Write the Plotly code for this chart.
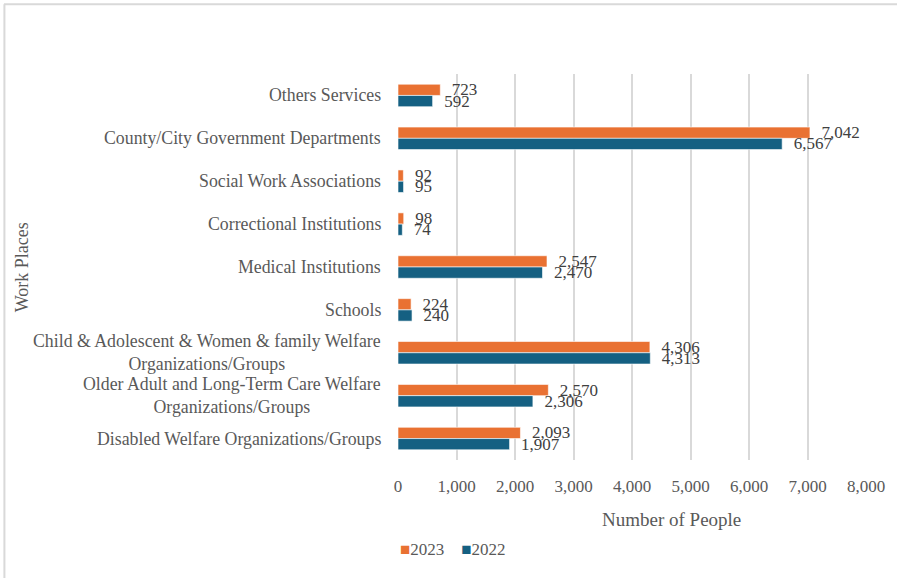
import plotly.graph_objects as go

# Work places, listed top to bottom
categories = [
    "Others Services",
    "County/City Government Departments",
    "Social Work Associations",
    "Correctional Institutions",
    "Medical Institutions",
    "Schools",
    "Child & Adolescent & Women & family Welfare<br>Organizations/Groups",
    "Older Adult and Long-Term Care Welfare<br>Organizations/Groups",
    "Disabled Welfare Organizations/Groups",
]
values_2023 = [723, 7042, 92, 98, 2547, 224, 4306, 2570, 2093]
values_2022 = [592, 6567, 95, 74, 2470, 240, 4313, 2306, 1907]
x_ticks = [0, 1000, 2000, 3000, 4000, 5000, 6000, 7000, 8000]
series = [("2023", values_2023, "#E97132"), ("2022", values_2022, "#156082")]

FONT = "Liberation Serif"
GREY = "#595959"

fig = go.Figure()
for name, vals, color in series:
    fig.add_trace(go.Bar(
        y=categories, x=vals, name=name, orientation="h",
        marker=dict(color=color, line=dict(color="white", width=0.6)),
        text=vals, texttemplate="  %{x:,}", textposition="outside",
        constraintext="none", cliponaxis=False,
        textfont=dict(family=FONT, size=17, color="#404040"),
    ))

# category labels, centred line by line and right-aligned to the axis
for cat in categories:
    fig.add_annotation(
        x=0, xref="paper", y=cat, yref="y", xanchor="right", yanchor="middle",
        xshift=-15, text=cat, showarrow=False, align="center",
        font=dict(family=FONT, size=17.8, color=GREY),
    )

fig.add_annotation(
    x=0.585, xref="paper", y=-0.153, yref="paper", xanchor="center", yanchor="middle",
    text="Number of People", showarrow=False,
    font=dict(family=FONT, size=19, color=GREY),
)
fig.add_annotation(
    x=-0.803, xref="paper", y=0.5, yref="paper", xanchor="center", yanchor="middle",
    text="Work Places", textangle=-90, showarrow=False,
    font=dict(family=FONT, size=18, color=GREY),
)

# legend: coloured squares followed by the series name
legend_text = "&nbsp;&nbsp;&nbsp;&nbsp;".join(
    f"<span style='color:{color}'>■</span>{name}" for name, _, color in series
)
fig.add_annotation(
    x=0.0, xref="paper", y=-0.231, yref="paper", xanchor="left", yanchor="middle",
    text=legend_text, showarrow=False,
    font=dict(family=FONT, size=17, color=GREY),
)

# chart frame (top and left edges)
fig.add_shape(type="line", xref="paper", yref="paper", x0=-0.842, x1=1.1, y0=1.181, y1=1.181,
              line=dict(color="#d9d9d9", width=2))
fig.add_shape(type="line", xref="paper", yref="paper", x0=-0.841, x1=-0.841, y0=1.181, y1=-0.35,
              line=dict(color="#d9d9d9", width=2))

fig.update_layout(
    width=897, height=578,
    margin=dict(l=398, r=31, t=74, b=118, autoexpand=False),
    paper_bgcolor="white", plot_bgcolor="white",
    barmode="group", bargap=0.475, bargroupgap=0,
    font=dict(family=FONT, size=17, color=GREY),
    showlegend=False,
    xaxis=dict(range=[0, 8000], tickvals=x_ticks, tickformat=",", showgrid=True,
               gridcolor="#d9d9d9", gridwidth=1.5, zeroline=False, showline=False,
               ticks="", ticklabelstandoff=14,
               tickfont=dict(family=FONT, size=17, color=GREY)),
    yaxis=dict(autorange="reversed", showticklabels=False, showgrid=False,
               zeroline=False, showline=False, ticks=""),
)

fig.write_html("out.html")
